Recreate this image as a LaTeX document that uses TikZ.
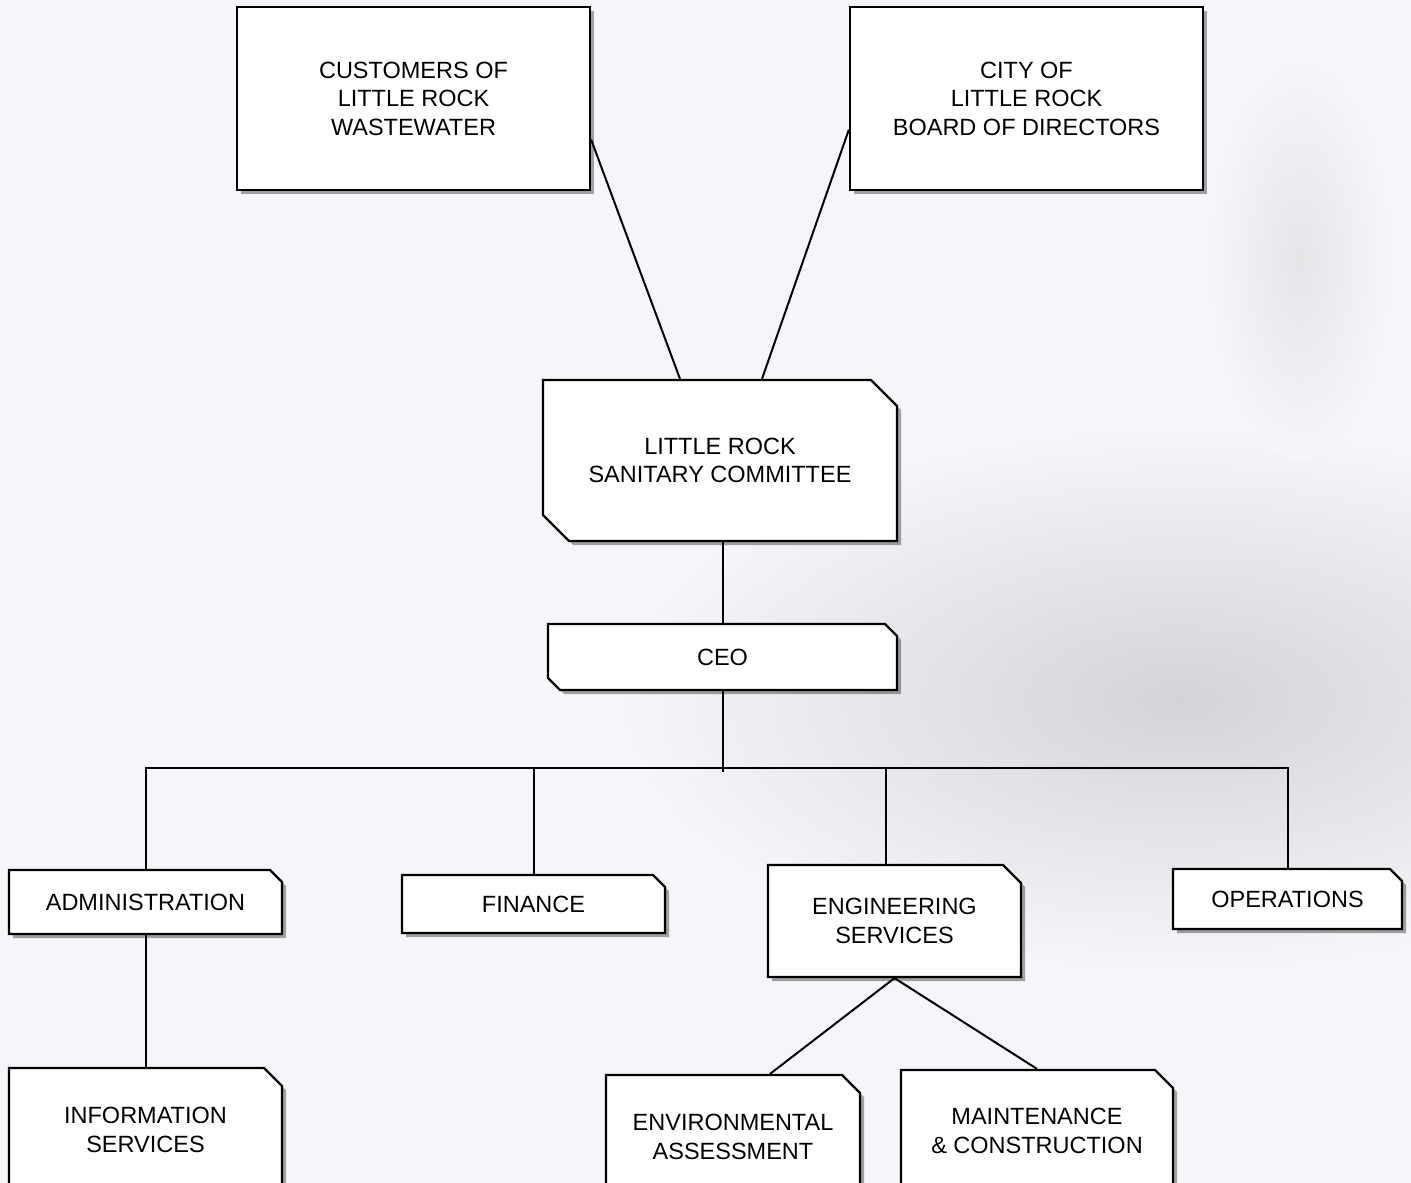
\documentclass[tikz,border=0pt]{standalone}
\usepackage{fontspec}
\setsansfont{Liberation Sans}
\usetikzlibrary{shapes.misc, shadows, positioning}
\definecolor{cbg}{HTML}{F4F6FA}
\definecolor{cwater}{HTML}{D3D4D8}
\definecolor{cline}{HTML}{000000}
\tikzset{
  every picture/.style={font=\sffamily\fontsize{23.5}{28.5}\selectfont},
  unit/.style={draw=cline, fill=white, line width=2.2pt, align=center, inner sep=4pt,
    drop shadow={shadow xshift=4pt, shadow yshift=-4pt, fill=black, opacity=0.35}},
  snipbox/.style={unit, chamfered rectangle, chamfered rectangle corners={north east, south west},
    chamfered rectangle xsep=#1, chamfered rectangle ysep=#1},
  snipbox/.default=6pt,
  tabbox/.style={unit, chamfered rectangle, chamfered rectangle corners=north east,
    chamfered rectangle xsep=#1, chamfered rectangle ysep=#1},
  tabbox/.default=6pt,
  link/.style={draw=cline, line width=2pt},
}
\begin{document}
\begin{tikzpicture}[x=1pt, y=-1pt]
  \useasboundingbox (0,0) rectangle (1411,1183);
  \clip (0,0) rectangle (1411,1183);
  % backdrop
  \fill[cbg] (0,0) rectangle (1411,1183);
  \shade[inner color=cwater, outer color=cbg] (1180,700) ellipse (560pt and 270pt);
  \shade[inner color=cwater!60, outer color=cbg] (1300,260) ellipse (90pt and 200pt);
  % owners
  \node[unit, minimum width=353pt, minimum height=183pt] (cust) at (413.5,98.5)
    {CUSTOMERS OF\\LITTLE ROCK\\WASTEWATER};
  \node[unit, minimum width=353pt, minimum height=183pt] (city) at (1026.5,98.5)
    {CITY OF\\LITTLE ROCK\\BOARD OF DIRECTORS};
  % governance
  \node[snipbox=13pt, minimum width=354pt, minimum height=161pt] (comm) at (720,460.5)
    {LITTLE ROCK\\SANITARY COMMITTEE};
  \node[snipbox, minimum width=349pt, minimum height=66pt] (ceo) at (722.5,657) {CEO};
  % departments
  \node[tabbox, minimum width=273pt, minimum height=64pt] (admin) at (145.5,902) {ADMINISTRATION};
  \node[tabbox, minimum width=263pt, minimum height=58pt] (fin) at (533.5,904) {FINANCE};
  \node[tabbox=9pt, minimum width=253pt, minimum height=112pt] (eng) at (894.5,921)
    {ENGINEERING\\SERVICES};
  \node[tabbox, minimum width=229pt, minimum height=60pt] (ops) at (1287.5,899) {OPERATIONS};
  % divisions
  \node[tabbox=9pt, minimum width=273pt, minimum height=124pt] (info) at (145.5,1130)
    {INFORMATION\\SERVICES};
  \node[tabbox=9pt, minimum width=254pt, minimum height=124pt] (env) at (733,1137)
    {ENVIRONMENTAL\\ASSESSMENT};
  \node[tabbox=9pt, minimum width=272pt, minimum height=122pt] (maint) at (1037,1131)
    {MAINTENANCE\\\& CONSTRUCTION};
  % connectors
  \coordinate (bus) at (723,768);
  \draw[link] ([yshift=-41pt]cust.east) -- ([xshift=-40pt]comm.north);
  \draw[link] ([yshift=-31pt]city.west) -- ([xshift=42pt]comm.north);
  \draw[link] (ceo.north |- comm.south) -- (ceo.north);
  \draw[link] (ceo.south) -- ([yshift=-4pt]ceo.south |- bus);
  \draw[link] (admin.north) |- (bus) -| (ops.north);
  \draw[link] (fin.north) -- (fin.north |- bus);
  \draw[link] ([xshift=-9pt]eng.north) -- ([xshift=-9pt]eng.north |- bus);
  \draw[link] (admin.south) -- (info.north);
  \draw[link] (eng.south) -- ([xshift=37pt]env.north);
  \draw[link] (eng.south) -- (maint.north);
\end{tikzpicture}
\end{document}
